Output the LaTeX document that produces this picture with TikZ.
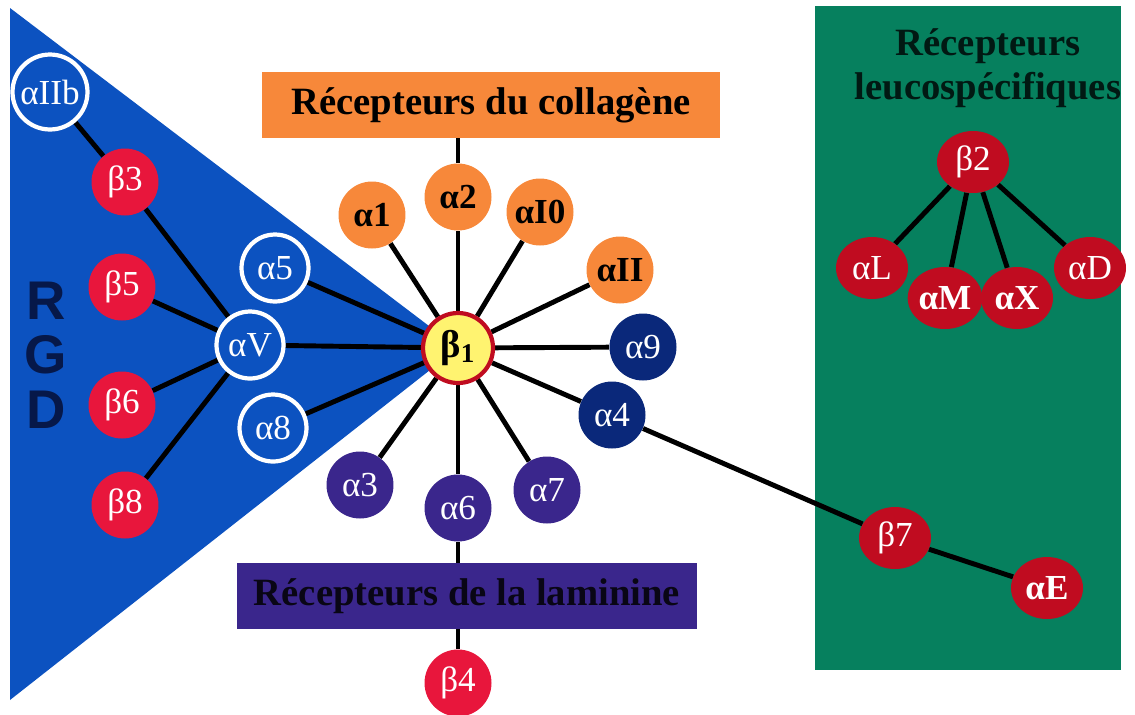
\documentclass[tikz,border=0pt]{standalone}
\usepackage{fontspec}
\setmainfont{Liberation Serif}
\setsansfont{Liberation Sans}
\usetikzlibrary{positioning, shapes.geometric, backgrounds}

\definecolor{rgdblue}{RGB}{12,82,192}
\definecolor{navyint}{RGB}{10,40,122}
\definecolor{lamviolet}{RGB}{58,38,140}
\definecolor{collorange}{RGB}{247,136,58}
\definecolor{betared}{RGB}{232,22,60}
\definecolor{leucored}{RGB}{192,12,32}
\definecolor{leucogreen}{RGB}{6,128,94}
\definecolor{coreyellow}{RGB}{255,243,112}

\begin{document}
\begin{tikzpicture}[
  x=0.02cm, y=-0.02cm,
  sub/.style={circle, minimum size=1.34cm, inner sep=0pt, align=center,
              font=\fontsize{20}{22}\selectfont},
  ring/.style={sub, fill=rgdblue, draw=white, line width=2.4pt, text=white},
  redsub/.style={sub, fill=betared, text=white},
  orangesub/.style={sub, fill=collorange, text=black, font=\fontsize{20}{22}\selectfont\bfseries},
  navysub/.style={sub, fill=navyint, text=white},
  violetsub/.style={sub, fill=lamviolet, text=white},
  leucosub/.style={ellipse, minimum width=1.44cm, minimum height=1.24cm, inner sep=0pt,
                   fill=leucored, text=white, font=\fontsize{20}{22}\selectfont},
  family/.style={minimum height=1.32cm, inner sep=0pt,
                 font=\fontsize{22}{24}\selectfont\bfseries},
  link/.style={line width=2.8pt, black},
]
  \useasboundingbox (0,0) rectangle (1135,714);

  % ═══ Boxes ══════════════════════════════════════════════════
  \node[family, fill=collorange, minimum width=9.16cm] (collagen) at (491,105) {Récepteurs du collagène};
  \node[family, fill=lamviolet, text=black!85!lamviolet, minimum width=9.2cm] (laminin) at (467,596) {Récepteurs de la laminine};
  \node[align=center, text=black!80!leucogreen, font=\fontsize{22}{25}\selectfont\bfseries] (leucotitle)
    at (988,68) {Récepteurs\\leucospécifiques};

  % ═══ Centre: beta1 ══════════════════════════════════════════
  \node[sub, minimum size=1.4cm, fill=coreyellow, draw=leucored, line width=2.4pt, text=black,
        font=\fontsize{22}{24}\selectfont\bfseries] (b1) at (458,348) {β\textsubscript{1}};

  % Collagen receptors
  \node[orangesub] (a1)  at (372,215) {α1};
  \node[orangesub] (a2)  at (458,197) {α2};
  \node[orangesub] (a10) at (540,212) {αI0};
  \node[orangesub] (a11) at (620,270) {αII};
  % Other alpha partners
  \node[navysub]   (a9)  at (643,347) {α9};
  \node[navysub]   (a4)  at (612,415) {α4};
  \node[violetsub] (a7)  at (547,490) {α7};
  \node[violetsub] (a6)  at (458,508) {α6};
  \node[violetsub] (a3)  at (360,485) {α3};
  \node[redsub]    (b4)  at (458,683) {β4};

  % ═══ RGD wedge ══════════════════════════════════════════════
  \node[ring, minimum width=1.5cm, minimum height=1.34cm] (a2b) at (50,92) {αIIb};
  \node[ring] (a5) at (275,268) {α5};
  \node[ring] (aV) at (250,345) {αV};
  \node[ring] (a8) at (273,428) {α8};
  \node[redsub] (b3) at (125,182) {β3};
  \node[redsub] (b5) at (122,287) {β5};
  \node[redsub] (b6) at (122,405) {β6};
  \node[redsub] (b8) at (125,505) {β8};
  \node[align=center, text=navyint!60!black, font=\fontsize{31}{31}\sffamily\bfseries] (rgd)
    at (46,355) {R\\G\\D};

  % ═══ Leucocyte receptors ════════════════════════════════════
  \node[leucosub] (b2) at (973,162) {β2};
  \node[leucosub] (aL) at (872,268) {αL};
  \node[leucosub, font=\fontsize{20}{22}\selectfont\bfseries] (aM) at (945,298) {αM};
  \node[leucosub, font=\fontsize{20}{22}\selectfont\bfseries] (aX) at (1017,298) {αX};
  \node[leucosub] (aD) at (1090,268) {αD};
  \node[leucosub] (b7) at (895,538) {β7};
  \node[leucosub, font=\fontsize{20}{22}\selectfont\bfseries] (aE) at (1047,588) {αE};

  % ═══ Links ══════════════════════════════════════════════════
  \begin{pgfonlayer}{background}
    \fill[rgdblue] (10,8) -- (458,348) -- (10,700) -- cycle;
    \node[fill=leucogreen, minimum width=6.14cm, minimum height=13.3cm, inner sep=0pt] (leuco) at (968,338) {};
    \foreach \s in {a1, a2, a10, a11, a9, a4, a7, a6, a3, a5, aV, a8} {
      \draw[link] (b1) -- (\s);
    }
    \draw[link] (a2) -- (a2 |- collagen.south);
    \draw[link] (a6) -- (a6 |- laminin.north);
    \draw[link] (b4) -- (b4 |- laminin.south);
    \draw[link] (a2b) -- (b3);
    \foreach \s in {b3, b5, b6, b8} {
      \draw[link] (aV) -- (\s);
    }
    \draw[link] (a4) -- (b7) -- (aE);
    \foreach \s in {aL, aM, aX, aD} {
      \draw[link] (b2) -- (\s);
    }
  \end{pgfonlayer}
\end{tikzpicture}
\end{document}
